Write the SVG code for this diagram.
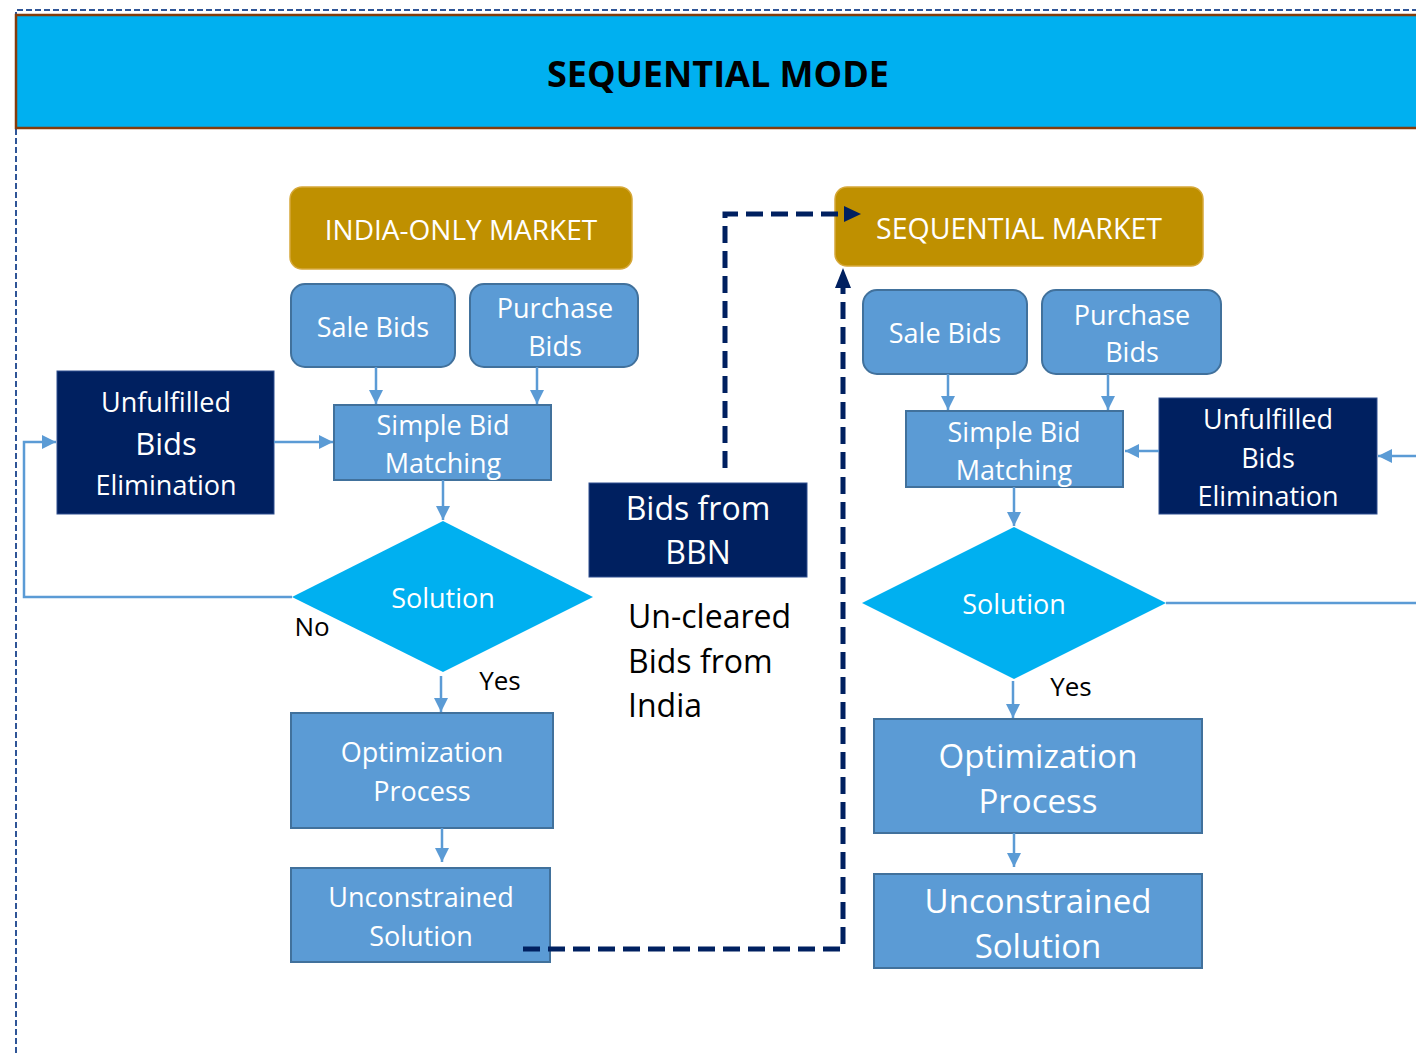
<svg xmlns="http://www.w3.org/2000/svg" width="1416" height="1053" viewBox="0 0 1416 1053">
<defs>
<style>
text{font-family:"Open Sans","DejaVu Sans",sans-serif;text-anchor:middle}
.w{fill:#fff}
.k{fill:#000}
.gold{fill:#BF9000;stroke:#D6A83A;stroke-width:1.5}
.bid{fill:#5B9BD5;stroke:#41719C;stroke-width:2}
.dark{fill:#002060;stroke:#2F4F8F;stroke-width:1}
.dia{fill:#00B0F0}
.ln{fill:none;stroke:#5B9BD5;stroke-width:2.5}
.dash{fill:none;stroke:#002060;stroke-width:5;stroke-dasharray:17 8}
</style>
<marker id="ab" viewBox="0 0 10 10" refX="10" refY="5" markerWidth="14" markerHeight="14" markerUnits="userSpaceOnUse" orient="auto"><path d="M0,0 L10,5 L0,10 z" fill="#5B9BD5"/></marker>
</defs>
<rect width="1416" height="1053" fill="#fff"/>
<path d="M16,1053 V10 H1416" fill="none" stroke="#2F5597" stroke-width="2" stroke-dasharray="6 3"/>
<g id="header">
<rect x="16" y="15" width="1410" height="113" fill="#00B0F0" stroke="#843C0C" stroke-width="2.5"/>
<text x="718" y="87" font-size="36" font-weight="bold" fill="#000">SEQUENTIAL MODE</text>
</g>
<g id="india-market">
<rect class="gold" x="290" y="187" width="342" height="82" rx="12"/>
<text class="w" x="461" y="240" font-size="28">INDIA-ONLY MARKET</text>
</g>
<g id="sale-bids-1">
<rect class="bid" x="291" y="284" width="164" height="83" rx="14"/>
<text class="w" x="373" y="337" font-size="27">Sale Bids</text>
</g>
<g id="purchase-bids-1">
<rect class="bid" x="470" y="284" width="168" height="83" rx="14"/>
<text class="w" x="555" y="318" font-size="27">Purchase</text>
<text class="w" x="555" y="356" font-size="27">Bids</text>
</g>
<g id="simple-bid-1">
<rect class="bid" x="334" y="405" width="217" height="75"/>
<text class="w" x="443" y="435" font-size="27">Simple Bid</text>
<text class="w" x="443" y="473" font-size="27">Matching</text>
</g>
<g id="unfulfilled-1">
<rect class="dark" x="57" y="371" width="217" height="143"/>
<text class="w" x="166" y="412" font-size="27">Unfulfilled</text>
<text class="w" x="166" y="455" font-size="31">Bids</text>
<text class="w" x="166" y="495" font-size="27">Elimination</text>
</g>
<g id="solution-1">
<polygon class="dia" points="443,521 593,597 443,672 292,597"/>
<text class="w" x="443" y="608" font-size="27">Solution</text>
</g>
<text class="k" x="312" y="636" font-size="26">No</text>
<text class="k" x="500" y="690" font-size="26">Yes</text>
<g id="optimization-1">
<rect class="bid" x="291" y="713" width="262" height="115"/>
<text class="w" x="422" y="762" font-size="27">Optimization</text>
<text class="w" x="422" y="801" font-size="27">Process</text>
</g>
<g id="unconstrained-1">
<rect class="bid" x="291" y="868" width="259" height="94"/>
<text class="w" x="421" y="907" font-size="27">Unconstrained</text>
<text class="w" x="421" y="946" font-size="27">Solution</text>
</g>
<g id="bbn">
<rect class="dark" x="589" y="483" width="218" height="94"/>
<text class="w" x="698" y="520" font-size="32">Bids from</text>
<text class="w" x="698" y="564" font-size="32">BBN</text>
</g>
<g id="uncleared">
<text class="k" x="628" y="628" font-size="32" style="text-anchor:start">Un-cleared</text>
<text class="k" x="628" y="673" font-size="32" style="text-anchor:start">Bids from</text>
<text class="k" x="628" y="717" font-size="32" style="text-anchor:start">India</text>
</g>
<g id="sequential-market">
<rect class="gold" x="835" y="187" width="368" height="79" rx="12"/>
<text class="w" x="1019" y="239" font-size="28.5">SEQUENTIAL MARKET</text>
</g>
<g id="sale-bids-2">
<rect class="bid" x="863" y="290" width="164" height="84" rx="14"/>
<text class="w" x="945" y="343" font-size="27">Sale Bids</text>
</g>
<g id="purchase-bids-2">
<rect class="bid" x="1042" y="290" width="179" height="84" rx="14"/>
<text class="w" x="1132" y="325" font-size="27">Purchase</text>
<text class="w" x="1132" y="362" font-size="27">Bids</text>
</g>
<g id="simple-bid-2">
<rect class="bid" x="906" y="411" width="217" height="76"/>
<text class="w" x="1014" y="442" font-size="27">Simple Bid</text>
<text class="w" x="1014" y="480" font-size="27">Matching</text>
</g>
<g id="unfulfilled-2">
<rect class="dark" x="1159" y="398" width="218" height="116"/>
<text class="w" x="1268" y="429" font-size="27">Unfulfilled</text>
<text class="w" x="1268" y="468" font-size="27">Bids</text>
<text class="w" x="1268" y="506" font-size="27">Elimination</text>
</g>
<g id="solution-2">
<polygon class="dia" points="1014,527 1166,603 1014,679 862,603"/>
<text class="w" x="1014" y="614" font-size="27">Solution</text>
</g>
<text class="k" x="1071" y="696" font-size="26">Yes</text>
<g id="optimization-2">
<rect class="bid" x="874" y="719" width="328" height="114"/>
<text class="w" x="1038" y="768" font-size="33">Optimization</text>
<text class="w" x="1038" y="813" font-size="33">Process</text>
</g>
<g id="unconstrained-2">
<rect class="bid" x="874" y="874" width="328" height="94"/>
<text class="w" x="1038" y="913" font-size="33">Unconstrained</text>
<text class="w" x="1038" y="958" font-size="33">Solution</text>
</g>
<g id="connectors">
<line class="ln" x1="376" y1="367" x2="376" y2="404" marker-end="url(#ab)"/>
<line class="ln" x1="537" y1="367" x2="537" y2="404" marker-end="url(#ab)"/>
<line class="ln" x1="274" y1="442" x2="333" y2="442" marker-end="url(#ab)"/>
<line class="ln" x1="443" y1="480" x2="443" y2="520" marker-end="url(#ab)"/>
<path class="ln" d="M292,597 H24 V442 H56" marker-end="url(#ab)"/>
<line class="ln" x1="441" y1="676" x2="441" y2="712" marker-end="url(#ab)"/>
<line class="ln" x1="442" y1="828" x2="442" y2="862" marker-end="url(#ab)"/>
<line class="ln" x1="948" y1="374" x2="948" y2="410" marker-end="url(#ab)"/>
<line class="ln" x1="1108" y1="374" x2="1108" y2="410" marker-end="url(#ab)"/>
<line class="ln" x1="1159" y1="451" x2="1125" y2="451" marker-end="url(#ab)"/>
<line class="ln" x1="1416" y1="456" x2="1378" y2="456" marker-end="url(#ab)"/>
<line class="ln" x1="1014" y1="487" x2="1014" y2="526" marker-end="url(#ab)"/>
<line class="ln" x1="1166" y1="603" x2="1416" y2="603"/>
<line class="ln" x1="1013" y1="681" x2="1013" y2="718" marker-end="url(#ab)"/>
<line class="ln" x1="1014" y1="833" x2="1014" y2="867" marker-end="url(#ab)"/>
<path class="dash" d="M523,949 H843 V286"/>
<path d="M843,268 L851,288 L835,288 z" fill="#002060"/>
<path class="dash" d="M725,468 V214 H844"/>
<path d="M861,214 L844,206 L844,222 z" fill="#002060"/>
</g>
</svg>
